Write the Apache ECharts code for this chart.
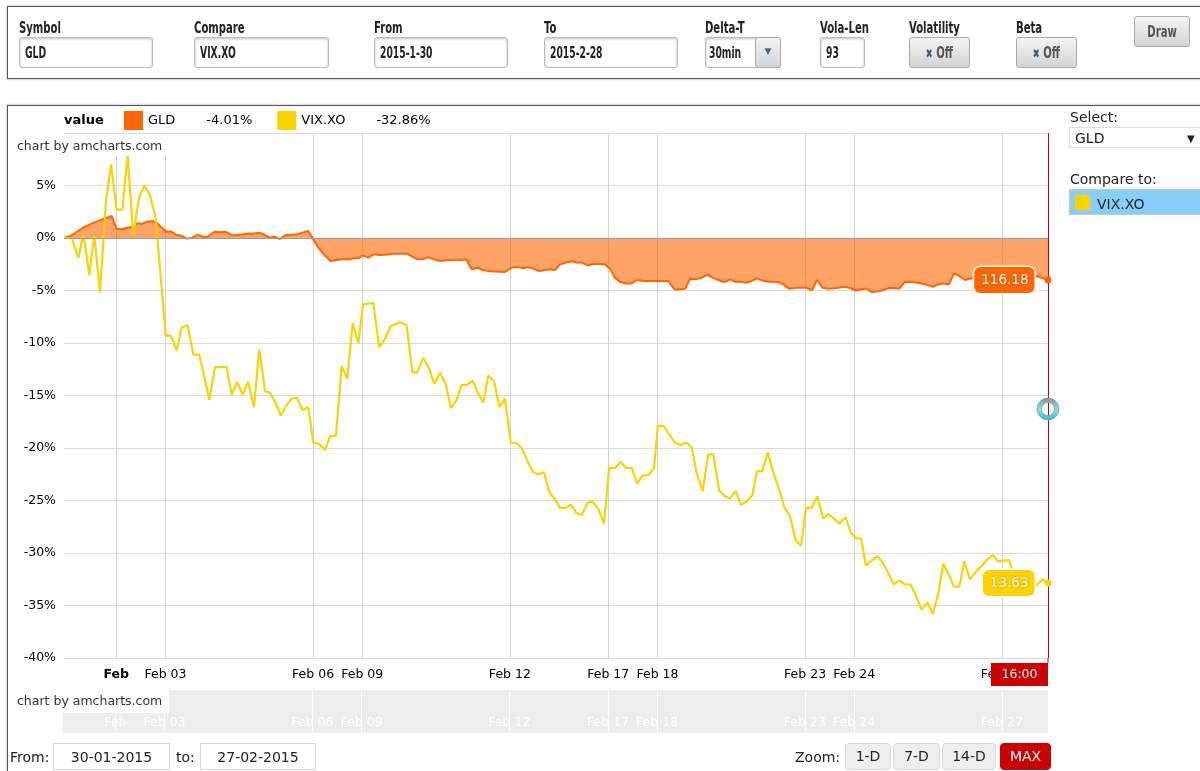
<!DOCTYPE html>
<html>
<head>
<meta charset="utf-8">
<script src="https://cdn.jsdelivr.net/npm/echarts@6/dist/echarts.min.js"></script>
<style>
html,body{margin:0;padding:0;background:#fff;width:1200px;height:771px;overflow:hidden;font-family:'DejaVu Sans',Verdana,sans-serif;color:#222;}
.abs{position:absolute;}
.box{position:absolute;border:1px solid #555;box-shadow:0 0 2px rgba(0,0,0,.35);z-index:1;}
.frm{font-family:'Liberation Sans Narrow','DejaVu Sans Condensed',sans-serif;font-weight:bold;color:#222;}
.lbl{position:absolute;font-size:16px;line-height:16px;z-index:3;transform:scaleX(0.7);transform-origin:left center;white-space:nowrap;}
.inp{position:absolute;border:1px solid #bbb;border-radius:3px;box-shadow:inset 0 1px 3px rgba(0,0,0,.25);background:#fff;font-size:16px;line-height:29px;padding-left:5px;box-sizing:border-box;height:31px;z-index:3;white-space:nowrap;overflow:hidden;}
.sq{display:inline-block;transform:scaleX(0.64);transform-origin:left center;}
.sc{display:inline-block;transform:scaleX(0.7);transform-origin:center center;}
.btn{position:absolute;border:1px solid #aaa;border-radius:3px;background:linear-gradient(#f4f4f4,#d3d3d3);box-sizing:border-box;text-align:center;font-size:16px;color:#555;z-index:3;white-space:nowrap;}
.txt{position:absolute;font-size:14px;line-height:16px;color:#222;z-index:3;white-space:nowrap;}
.zb{position:absolute;top:743px;height:27px;line-height:25px;box-sizing:border-box;border:1px solid #d8d8d8;border-radius:4px;background:#eee;font-size:14px;text-align:center;color:#222;z-index:3;}
#chart{position:absolute;left:0;top:0;width:1200px;height:771px;z-index:2;}
</style>
</head>
<body>
<div class="box" style="left:7px;top:6px;width:1220px;height:71px;"></div>
<div class="box" style="left:7px;top:105px;width:1220px;height:720px;"></div>

<div class="lbl frm" style="left:19px;top:20px;">Symbol</div>
<div class="inp frm" style="left:19px;top:37px;width:134px;"><span class="sq">GLD</span></div>
<div class="lbl frm" style="left:194px;top:20px;">Compare</div>
<div class="inp frm" style="left:194px;top:37px;width:135px;"><span class="sq">VIX.XO</span></div>
<div class="lbl frm" style="left:374px;top:20px;">From</div>
<div class="inp frm" style="left:374px;top:37px;width:134px;"><span class="sq">2015-1-30</span></div>
<div class="lbl frm" style="left:544px;top:20px;">To</div>
<div class="inp frm" style="left:544px;top:37px;width:134px;"><span class="sq">2015-2-28</span></div>
<div class="lbl frm" style="left:705px;top:20px;">Delta-T</div>
<div class="inp frm" style="left:705px;top:37px;width:76px;padding-left:3px;"><span class="sq">30min</span></div>
<div class="btn" style="left:755px;top:37px;width:26px;height:31px;line-height:26px;font-size:9px;color:#4a6a8a;">&#9660;</div>
<div class="lbl frm" style="left:820px;top:20px;">Vola-Len</div>
<div class="inp frm" style="left:820px;top:37px;width:45px;padding-left:5px;"><span class="sq">93</span></div>
<div class="lbl frm" style="left:909px;top:20px;">Volatility</div>
<div class="btn frm" style="left:909px;top:37px;width:61px;height:31px;line-height:29px;"><span class="sc"><span style="color:#3d5a7a;font-size:13px;">&#10006;</span> Off</span></div>
<div class="lbl frm" style="left:1016px;top:20px;">Beta</div>
<div class="btn frm" style="left:1016px;top:37px;width:61px;height:31px;line-height:29px;"><span class="sc"><span style="color:#3d5a7a;font-size:13px;">&#10006;</span> Off</span></div>
<div class="btn frm" style="left:1134px;top:16px;width:56px;height:31px;line-height:29px;"><span class="sc">Draw</span></div>

<div class="txt" style="left:1070px;top:109px;">Select:</div>
<div class="abs" style="left:1069px;top:127px;width:140px;height:21px;border:1px solid #ddd;box-sizing:border-box;z-index:3;background:#fff;"></div>
<div class="txt" style="left:1075px;top:130px;">GLD</div>
<div class="txt" style="left:1187px;top:131px;font-size:10px;">&#9660;</div>
<div class="txt" style="left:1070px;top:171px;">Compare to:</div>
<div class="abs" style="left:1069px;top:189px;width:140px;height:26px;background:#87cefa;border:1px solid #c8c8c8;box-sizing:border-box;z-index:3;"></div>
<div class="abs" style="left:1075px;top:195px;width:15px;height:15px;background:#FCD202;z-index:4;"></div>
<div class="txt" style="left:1097px;top:196px;z-index:4;">VIX.XO</div>

<div class="txt" style="left:10px;top:749px;">From:</div>
<div class="abs" style="left:53px;top:743px;width:117px;height:27px;border:1px solid #d8d8d8;box-sizing:border-box;z-index:3;"></div>
<div class="txt" style="left:53px;top:749px;width:117px;text-align:center;">30-01-2015</div>
<div class="txt" style="left:176px;top:749px;">to:</div>
<div class="abs" style="left:200px;top:743px;width:116px;height:27px;border:1px solid #d8d8d8;box-sizing:border-box;z-index:3;"></div>
<div class="txt" style="left:200px;top:749px;width:116px;text-align:center;">27-02-2015</div>
<div class="txt" style="left:795px;top:749px;">Zoom:</div>
<div class="zb" style="left:845px;width:46px;">1-D</div>
<div class="zb" style="left:893px;width:47px;">7-D</div>
<div class="zb" style="left:942px;width:54px;">14-D</div>
<div class="zb" style="left:1000px;width:51px;background:#cc0000;border-color:#cc0000;color:#fff;">MAX</div>

<div id="chart"></div>

<script>
// Trading sessions shown on the x axis; positions are in session slots (16 per session, the first session has 17)
const tradingDays = ['Jan 30','Feb 02','Feb 03','Feb 04','Feb 05','Feb 06','Feb 09','Feb 10','Feb 11','Feb 12','Feb 13','Feb 17','Feb 18','Feb 19','Feb 20','Feb 23','Feb 24','Feb 25','Feb 26','Feb 27'];
const slotsPerDay = 16;
const firstDaySlots = 17;
const labelDays  = ['Feb 02','Feb 03','Feb 06','Feb 09','Feb 12','Feb 17','Feb 18','Feb 23','Feb 24','Feb 27'];
const labelTexts = ['Feb','Feb 03','Feb 06','Feb 09','Feb 12','Feb 17','Feb 18','Feb 23','Feb 24','Feb 27'];
const labelBold  = [true,false,false,false,false,false,false,false,false,false];
const yMin = -40, yMax = 10, yStep = 5;
const seriesNames = ['GLD','VIX.XO'];
const cursorPrice = [116.18, 13.63];
const cursorTime = '16:00';

// [session slot, % change]
const gldPoints = [[0,0],[2.5,0.25],[4.1,0.57],[6.3,1.0],[8.45,1.3],[10.6,1.56],[12.6,1.78],[15.5,2.1],[17.1,0.89],[18.75,0.83],[20.4,0.98],[22,1.05],[23.85,1.4],[25.3,1.33],[27.1,1.56],[28.85,1.59],[30.15,1.46],[31.8,0.98],[33.2,0.63],[34.8,0.63],[36.4,0.32],[38.3,0.19],[39.9,-0.06],[41.5,0],[43.5,0.32],[45.1,0.13],[46.9,0.13],[48.9,0.6],[50.5,0.54],[52.4,0.6],[54.9,0.25],[56.7,0.32],[58.3,0.35],[59.9,0.44],[61.9,0.44],[63.5,0.51],[65,0.32],[67,0.03],[68.6,0.13],[70.2,-0.1],[72.1,0.29],[74.05,0.32],[75.9,0.35],[77.5,0.51],[79.45,0.67],[81.1,-0.13],[82.7,-0.92],[84.3,-1.49],[86.7,-2.19],[88.7,-2.1],[90.6,-2.03],[92.45,-2.03],[94.1,-1.94],[95.7,-1.94],[97.1,-1.65],[99,-1.87],[100.6,-1.56],[102.5,-1.62],[104.4,-1.59],[106.6,-1.49],[111.4,-1.49],[113.3,-1.78],[115,-2.03],[116.65,-2.03],[118.5,-1.81],[120.3,-2.03],[122.3,-2.19],[124.2,-2.13],[126.1,-2.13],[127.7,-2.06],[128.8,-2.13],[130.7,-2.03],[132.6,-2.98],[134.4,-2.83],[136.2,-3.05],[138.5,-3.17],[143.4,-3.24],[145.6,-2.83],[147.4,-2.73],[149.2,-2.89],[151,-2.79],[152.6,-2.92],[154.5,-3.14],[156.4,-3.05],[158,-2.98],[159.7,-3.04],[161.3,-2.5],[163.25,-2.34],[165.1,-2.21],[166.7,-2.34],[168.55,-2.34],[170.2,-2.6],[172.1,-2.47],[175.7,-2.47],[177.6,-2.92],[179.2,-3.78],[181,-4.2],[182.8,-4.33],[184.6,-4.33],[186.45,-4.0],[188.4,-4.1],[196.5,-4.1],[198.5,-4.9],[200.3,-4.9],[202,-4.84],[203.6,-3.88],[205.4,-3.94],[207.4,-3.78],[209.2,-3.49],[210.95,-3.78],[212.8,-4.0],[214.6,-4.2],[216.6,-3.94],[218.2,-4.17],[220.05,-4.17],[222,-4.26],[223.6,-4.1],[225.3,-3.85],[227.1,-4.04],[229.05,-4.17],[230.65,-4.17],[232.3,-4.2],[233.9,-4.42],[235.9,-4.84],[237.95,-4.74],[241.5,-4.74],[243.3,-4.97],[244.8,-4.0],[246.7,-4.74],[248.55,-4.84],[251.8,-4.74],[253.75,-4.65],[255.6,-4.74],[257.55,-5.0],[259.1,-4.9],[260.8,-4.81],[262.7,-5.16],[264.85,-5.06],[266.4,-4.97],[268.4,-4.74],[271.65,-4.81],[273.5,-4.17],[275.45,-4.2],[277.8,-4.26],[280.3,-4.42],[282.5,-4.65],[284.3,-4.42],[285.95,-4.33],[287.8,-4.42],[289.4,-3.37],[291.15,-3.62],[293,-4.0],[294.4,-3.88],[299.5,-3.8],[304.4,-3.7],[310.9,-3.7],[316.1,-3.62],[317.9,-3.78],[320,-4.01]];

const vixPoints = [[0,0],[2.5,0],[4.65,-1.9],[6.3,0.4],[8.2,-3.5],[9.85,0.3],[11.7,-5.2],[13.65,3.5],[15.3,7.0],[17.1,2.7],[18.95,2.7],[20.7,7.9],[22.5,0.3],[24.4,3.8],[26.1,5.0],[27.95,4.1],[29.8,1.9],[33.1,-9.3],[34.7,-9.3],[36.65,-10.7],[38.3,-8.5],[40.2,-8.3],[42.05,-11.1],[43.9,-11.1],[45.5,-13.0],[47.25,-15.4],[49.1,-12.3],[52.9,-12.3],[54.5,-14.9],[56.35,-13.7],[58.1,-14.9],[59.9,-13.7],[61.8,-16.1],[63.5,-10.6],[65.4,-14.6],[66.8,-14.7],[68.6,-15.6],[70.5,-16.9],[72.2,-16.0],[74.05,-15.3],[75.7,-15.2],[77.6,-16.4],[79.45,-16.1],[81.1,-19.5],[83,-19.6],[84.9,-20.2],[86.5,-18.9],[88.45,-18.8],[90.3,-12.2],[92.1,-13.4],[93.9,-8.1],[95.7,-10.0],[97.3,-6.3],[100.6,-6.2],[102.5,-10.4],[104.4,-9.6],[106.2,-8.4],[109.3,-8.0],[111.4,-8.3],[113.3,-12.8],[114.9,-12.8],[116.8,-11.4],[118.7,-12.4],[120.4,-13.9],[122.3,-12.8],[124.1,-13.9],[125.85,-16.2],[127.7,-15.4],[129.3,-14.0],[130.95,-14.0],[132.9,-13.6],[134.5,-14.7],[136.35,-15.7],[138,-13.1],[139.9,-13.7],[141.6,-16.1],[143.4,-15.3],[145.3,-19.5],[147,-19.5],[148.85,-20.0],[150.8,-21.3],[152.6,-22.3],[154.25,-22.5],[156.1,-22.3],[157.8,-24.2],[159.7,-24.9],[161.3,-25.7],[163.15,-25.7],[164.9,-25.4],[166.7,-26.2],[168.35,-26.4],[170.3,-25.2],[171.9,-25.1],[173.75,-25.8],[175.6,-27.2],[177.3,-21.9],[179.2,-21.9],[181,-21.3],[182.8,-21.9],[184.6,-21.9],[186.45,-23.4],[188.2,-22.6],[190,-22.6],[191.9,-21.9],[193.1,-17.9],[194.9,-17.9],[196.85,-18.7],[198.7,-19.5],[200.55,-19.7],[202.3,-19.5],[204.1,-19.9],[205.75,-22.4],[207.7,-24.1],[209.5,-20.6],[211.15,-20.6],[213.1,-24.1],[215,-24.6],[216.6,-24.8],[218.45,-24.1],[220.2,-25.4],[222,-25.1],[223.85,-24.5],[225.3,-22.2],[227.1,-22.2],[228.85,-20.4],[230.65,-22.3],[232.5,-23.9],[234.2,-25.6],[236.1,-26.5],[237.95,-28.8],[239.7,-29.3],[241.3,-25.7],[243.15,-25.7],[244.95,-24.6],[246.9,-26.7],[248.55,-26.3],[250.4,-26.7],[252.1,-27.2],[254.2,-26.6],[255.9,-28.1],[257.55,-28.6],[259.2,-28.6],[260.8,-31.2],[262.7,-30.7],[264.5,-30.3],[266.25,-30.9],[268.05,-31.9],[269.9,-33.0],[271.65,-32.6],[273.5,-33.0],[275.3,-33.0],[277.1,-34.1],[278.9,-35.4],[280.75,-34.7],[282.5,-35.8],[284.3,-33.9],[285.95,-31.0],[287.8,-32.1],[289.4,-33.2],[291.15,-33.2],[292.8,-30.8],[294.6,-32.5],[296.5,-31.8],[298.2,-31.3],[300.3,-30.6],[302,-30.2],[303.8,-30.8],[305.6,-30.7],[307.4,-30.7],[308.2,-31.5],[310.9,-33.2],[314.1,-33.5],[316.5,-33.0],[318.3,-32.5],[320,-32.86]];

const colors = ['#FF6600','#FCD202'];
const FONT = "'DejaVu Sans', Verdana, sans-serif";

function dayStart(i){ return i === 0 ? 0 : firstDaySlots + (i - 1) * slotsPerDay; }
const xMax = firstDaySlots + (tradingDays.length - 2) * slotsPerDay + (slotsPerDay - 1);
const labelPos = labelDays.map(d => dayStart(tradingDays.indexOf(d)));
const lastVal = [gldPoints[gldPoints.length-1][1], vixPoints[vixPoints.length-1][1]];

function xLabel(v){
  const i = labelPos.indexOf(v);
  if (i < 0) return '';
  return labelBold[i] ? '{b|' + labelTexts[i] + '}' : labelTexts[i];
}

const chart = echarts.init(document.getElementById('chart'), null, {renderer:'canvas'});

function endLabel(idx){
  const pts = idx === 0 ? gldPoints : vixPoints;
  const last = pts[pts.length-1];
  return {
    silent:true,
    data:[{
      coord:last, symbol:'circle', symbolSize:7,
      itemStyle:{color:colors[idx]},
      label:{show:true, position:'left', distance:10, formatter:cursorPrice[idx].toFixed(2),
        color:'#fff', fontSize:13.5, lineHeight:14, fontFamily:FONT, backgroundColor:colors[idx],
        borderColor:'#fff', borderWidth:1.5, borderRadius:6, padding:[6,6,6,7],
        textShadowColor:'rgba(0,0,0,0.35)', textShadowBlur:2}
    }]
  };
}

const option = {
  animation:false,
  backgroundColor:'transparent',
  textStyle:{fontFamily:FONT},
  legend:{
    left:124, top:111, padding:0, itemWidth:19, itemHeight:19, itemGap:25, icon:'rect',
    data:seriesNames, selectedMode:false,
    textStyle:{fontSize:13, color:'#000', fontFamily:FONT,
      rich:{n:{fontSize:13, color:'#000', fontFamily:FONT, padding:[0,31,0,0]}, v:{fontSize:13, color:'#000', fontFamily:FONT}}},
    formatter: name => {
      const i = seriesNames.indexOf(name);
      return '{n|' + name + '}{v|' + lastVal[i].toFixed(2) + '%}';
    }
  },
  grid:[
    {left:64, top:133, width:984, height:525, containLabel:false},
    {left:63, top:690, width:985, height:43, show:true, backgroundColor:'#ededed', borderWidth:0}
  ],
  xAxis:[
    {type:'value', gridIndex:0, min:0, max:xMax,
      axisLine:{show:false}, axisTick:{show:false, customValues:labelPos},
      splitLine:{show:true, lineStyle:{color:'#d4d4d4', width:1}},
      axisLabel:{customValues:labelPos, formatter:xLabel, margin:10, color:'#000', fontSize:12.5, fontFamily:FONT,
        rich:{b:{fontWeight:'bold', fontSize:12.5, color:'#000', fontFamily:FONT}}}},
    {type:'value', gridIndex:1, min:0, max:xMax,
      axisLine:{show:false}, axisTick:{show:false, customValues:labelPos},
      splitLine:{show:true, lineStyle:{color:'#ffffff', width:1}},
      axisLabel:{customValues:labelPos, inside:true, margin:4, color:'#ffffff', fontSize:12.5, fontFamily:FONT,
        formatter: v => labelTexts[labelPos.indexOf(v)] || ''}}
  ],
  yAxis:[
    {type:'value', gridIndex:0, min:yMin, max:yMax, interval:yStep,
      axisLine:{show:false}, axisTick:{show:false},
      splitLine:{lineStyle:{color:'#dcdcdc', width:1}},
      axisLabel:{formatter:'{value}%', showMaxLabel:false, margin:8, color:'#000', fontSize:12.5, fontFamily:FONT}},
    {type:'value', gridIndex:1, min:0, max:1, show:false}
  ],
  series:[
    {name:seriesNames[0], type:'line', xAxisIndex:0, yAxisIndex:0, data:gldPoints,
      showSymbol:false, z:2, color:colors[0],
      lineStyle:{color:colors[0], width:2},
      itemStyle:{color:colors[0]},
      areaStyle:{color:colors[0], opacity:0.6, origin:0},
      markLine:{silent:true, symbol:'none', label:{show:false},
        lineStyle:{color:'#9a9a9a', width:1, type:'solid'}, data:[{yAxis:0}]},
      markPoint:endLabel(0)},
    {name:seriesNames[1], type:'line', xAxisIndex:0, yAxisIndex:0, data:vixPoints,
      showSymbol:false, z:3, color:colors[1],
      lineStyle:{color:colors[1], width:2.2},
      itemStyle:{color:colors[1]},
      markLine:{silent:true, symbol:'none', label:{show:false},
        lineStyle:{color:'#cc0000', width:1, type:'solid'}, data:[{xAxis:xMax}]},
      markPoint:endLabel(1)}
  ]
};
chart.setOption(option);

const bottomRight = chart.convertToPixel({xAxisIndex:0, yAxisIndex:0}, [xMax, yMin]);
const topRight = chart.convertToPixel({xAxisIndex:0, yAxisIndex:0}, [xMax, yMax]);
chart.setOption({
  graphic:[
    {type:'text', left:64, top:114, z:50, style:{text:'value', font:"bold 13px 'DejaVu Sans', Verdana, sans-serif", fill:'#000'}},
    {type:'rect', shape:{x:10, y:135, width:157, height:21}, style:{fill:'#fff'}, z:50},
    {type:'text', x:17, y:140, z:51, style:{text:'chart by amcharts.com', font:"12.5px 'DejaVu Sans', Verdana, sans-serif", fill:'#333'}},
    {type:'rect', shape:{x:11, y:690, width:158, height:23}, style:{fill:'#fff'}, z:50},
    {type:'text', x:17, y:695, z:51, style:{text:'chart by amcharts.com', font:"12.5px 'DejaVu Sans', Verdana, sans-serif", fill:'#333'}},
    {type:'rect', shape:{x:bottomRight[0]-57, y:bottomRight[1]+5, width:57, height:23}, style:{fill:'#cc0000'}, z:50},
    {type:'text', x:bottomRight[0]-28.5, y:bottomRight[1]+16.5, z:51, style:{text:cursorTime, align:'center', verticalAlign:'middle', font:"12.5px 'DejaVu Sans', Verdana, sans-serif", fill:'#fff'}},
    {type:'line', shape:{x1:bottomRight[0], y1:bottomRight[1], x2:bottomRight[0], y2:bottomRight[1]+5}, style:{stroke:'#cc0000', lineWidth:1}, z:50},
    {type:'ring', shape:{cx:topRight[0], cy:409, r:11, r0:6.5}, z:60,
      style:{fill:new echarts.graphic.LinearGradient(0,0,0,1,[{offset:0,color:'#7f8f96'},{offset:0.5,color:'#8fe0e4'},{offset:1,color:'#25c2cc'}]), stroke:'#8a9aa0', lineWidth:0.8}}
  ]
});
</script>
</body>
</html>
